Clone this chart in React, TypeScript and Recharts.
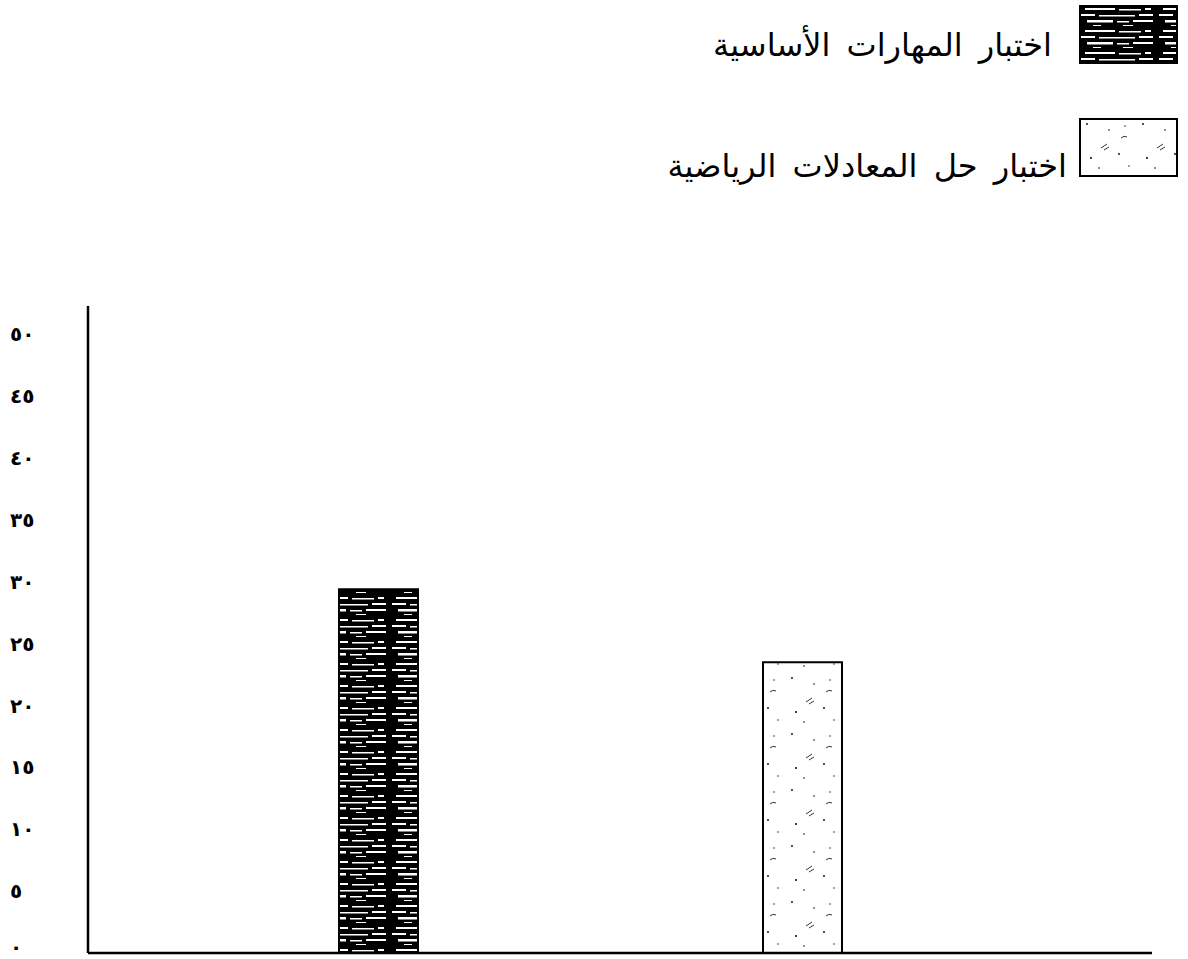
import { BarChart, Bar, XAxis, YAxis, Cell, Legend } from 'recharts';

const CATEGORIES = ['اختبار المهارات الأساسية', 'اختبار حل المعادلات الرياضية'];
const SCORES = [29.4, 23.5];
const Y_TICKS = [0, 5, 10, 15, 20, 25, 30, 35, 40, 45, 50];
const Y_MAX = 52.3;

const data = CATEGORIES.map((name, i) => ({ name, score: SCORES[i] }));
const FILLS = ['dark', 'speckle'];

const DIGITS = '٠١٢٣٤٥٦٧٨٩';
const toArabic = (n: number) => String(n).replace(/\d/g, (d) => DIGITS[+d]);

// scanned-looking fills
function PatternDefs({ prefix = '' }: { prefix?: string }) {
  return (
    <defs>
      <pattern id={prefix + 'dark'} width={78} height={22} patternUnits="userSpaceOnUse">
        <rect width={78} height={22} fill="#000" />
        <rect x={6} y={3} width={30} height={2} fill="#fff" />
        <rect x={40} y={4} width={22} height={1.5} fill="#fff" />
        <rect x={66} y={3} width={6} height={2} fill="#fff" />
        <rect x={2} y={9} width={14} height={2} fill="#fff" />
        <rect x={20} y={10} width={36} height={1.5} fill="#fff" />
        <rect x={60} y={9} width={14} height={2} fill="#fff" />
        <rect x={8} y={15} width={26} height={2.5} fill="#fff" />
        <rect x={38} y={16} width={12} height={1.5} fill="#fff" />
        <rect x={54} y={15} width={20} height={2} fill="#fff" />
        <rect x={14} y={20} width={8} height={1} fill="#fff" />
        <rect x={44} y={20} width={10} height={1} fill="#fff" />
      </pattern>
      <pattern id={prefix + 'speckle'} width={56} height={56} patternUnits="userSpaceOnUse">
        <rect width={56} height={56} fill="#fff" />
        <circle cx={8} cy={6} r={0.9} fill="#000" />
        <circle cx={30} cy={12} r={0.8} fill="#000" />
        <circle cx={46} cy={8} r={0.7} fill="#000" />
        <path d="M22 30 l6 -4 M25 32 l5 -3" stroke="#000" strokeWidth={0.8} />
        <circle cx={12} cy={40} r={1} fill="#000" />
        <circle cx={40} cy={36} r={0.9} fill="#000" />
        <circle cx={50} cy={48} r={0.7} fill="#000" />
        <circle cx={20} cy={50} r={0.8} fill="#000" />
        <path d="M42 20 q3 -3 6 -1" stroke="#000" strokeWidth={0.8} fill="none" />
      </pattern>
    </defs>
  );
}

function Swatch({ kind }: { kind: string }) {
  const id = 'lg-' + kind;
  return (
    <svg width={99} height={59} style={{ display: 'block' }}>
      <PatternDefs prefix="lg-" />
      <rect x={1} y={1} width={97} height={57} fill={`url(#${id})`} stroke="#000" strokeWidth={2} />
    </svg>
  );
}

const LEGEND_ROWS = [
  { swatchTop: 5, textTop: 25, textRight: 1052 },
  { swatchTop: 118, textTop: 146, textRight: 1067 },
];

function ChartLegend() {
  return (
    <div style={{ position: 'relative', width: 1188, height: 190 }}>
      {CATEGORIES.map((name, i) => (
        <div key={name}>
          <div style={{ position: 'absolute', left: 1079, top: LEGEND_ROWS[i].swatchTop }}>
            <Swatch kind={FILLS[i]} />
          </div>
          <div
            style={{
              position: 'absolute',
              right: 1188 - LEGEND_ROWS[i].textRight,
              top: LEGEND_ROWS[i].textTop,
              direction: 'rtl',
              fontFamily: '"DejaVu Sans", sans-serif',
              fontSize: 32,
              lineHeight: '40px',
              wordSpacing: 6,
              whiteSpace: 'nowrap',
              color: '#000',
            }}
          >
            {name}
          </div>
        </div>
      ))}
    </div>
  );
}

const YTick = ({ x, y, payload }: { x?: number; y?: number; payload?: { value: number } }) => (
  <text
    x={(x ?? 0) - 70}
    y={y}
    dy={payload?.value === 0 ? 1 : 7}
    textAnchor="start"
    fontFamily='"DejaVu Sans", sans-serif'
    fontWeight="bold"
    fontSize={20}
    letterSpacing={9}
    fill="#000"
  >
    {toArabic(payload?.value ?? 0)}
  </text>
);

export default function App() {
  return (
    <div style={{ width: 1188, height: 959, background: '#fff' }}>
      <style>{'body{margin:0;background:#fff}'}</style>
      <BarChart
        width={1188}
        height={959}
        data={data}
        margin={{ top: 306, right: 36, bottom: 5, left: 0 }}
      >
        <PatternDefs />
        <Legend
          layout="vertical"
          align="center"
          verticalAlign="middle"
          wrapperStyle={{ top: 0, left: 0, width: 1188 }}
          content={() => <ChartLegend />}
        />
        <XAxis
          dataKey="name"
          height={1}
          tick={false}
          tickLine={false}
          axisLine={{ stroke: '#000', strokeWidth: 2.5 }}
          padding={{ left: 78, right: 138 }}
        />
        <YAxis
          width={88}
          domain={[0, Y_MAX]}
          ticks={Y_TICKS}
          interval={0}
          allowDataOverflow
          tickLine={false}
          axisLine={{ stroke: '#000', strokeWidth: 2.5 }}
          tick={<YTick />}
        />
        <Bar dataKey="score" barSize={79} isAnimationActive={false}>
          {data.map((_, i) => (
            <Cell key={i} fill={`url(#${FILLS[i]})`} stroke="#000" strokeWidth={2} />
          ))}
        </Bar>
      </BarChart>
    </div>
  );
}
